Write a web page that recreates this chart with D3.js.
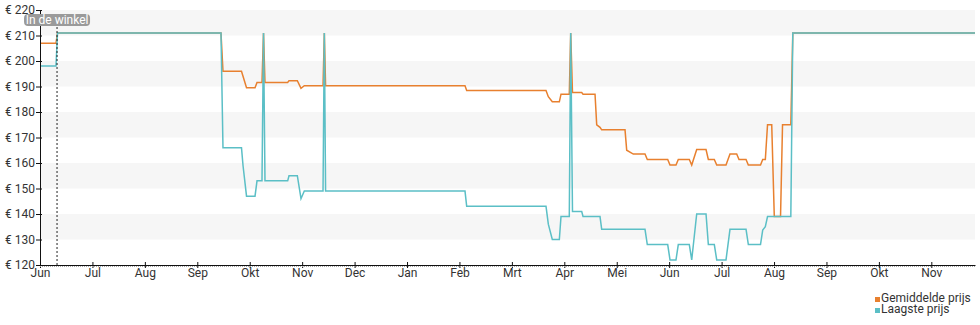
<!DOCTYPE html>
<html>
<head>
<meta charset="utf-8">
<script src="https://cdn.jsdelivr.net/npm/d3@7"></script>
<style>
  body { margin: 0; background: #fff; }
  svg { font-family: Roboto, sans-serif; }
</style>
</head>
<body>
<div id="chart"></div>
<script>
// month labels (x axis, one per month starting at Jun)
var monthLabels = ["Jun", "Jul", "Aug", "Sep", "Okt", "Nov", "Dec", "Jan", "Feb",
  "Mrt", "Apr", "Mei", "Jun", "Jul", "Aug", "Sep", "Okt", "Nov"];

// position of each price point, in months after the first Jun tick
var monthPos = [0, 0.305, 0.334, 3.452, 3.490, 3.843, 3.872, 3.939, 4.101, 4.139,
  4.234, 4.263, 4.291, 4.724, 4.749, 4.908, 4.978, 5.041, 5.398, 5.423,
  5.447, 8.106, 8.138, 9.651, 9.695, 9.771, 9.905, 9.937, 10.095, 10.122,
  10.156, 10.332, 10.357, 10.586, 10.618, 10.681, 10.713, 11.158, 11.190, 11.316,
  11.539, 11.583, 11.972, 12.016, 12.130, 12.174, 12.384, 12.430, 12.525, 12.703,
  12.747, 12.861, 12.907, 13.084, 13.160, 13.288, 13.332, 13.466, 13.510, 13.742,
  13.784, 13.834, 13.876, 13.956, 14.005, 14.124, 14.162, 14.320, 14.358, 17.833];

// Gemiddelde prijs
var avgPrice = [207, 207, 211, 211, 196, 196, 194, 189.5, 189.5, 191.6,
  191.6, 211, 191.6, 191.6, 192.3, 192.3, 189.3, 190.3, 190.3, 211,
  190.3, 190.3, 188.4, 188.4, 186, 184, 184, 187, 187, 211,
  187.6, 187.6, 187, 187, 175, 174, 173, 173, 165, 163.5,
  163.5, 161.4, 161.4, 159.2, 159.2, 161.4, 161.4, 159.2, 165.3, 165.3,
  161.4, 161.4, 159.2, 159.2, 163.5, 163.5, 161.4, 161.4, 159.2, 159.2,
  161.4, 161.4, 175, 175, 139, 139, 175, 175, 211, 211];

// Laagste prijs
var lowPrice = [198, 198, 211, 211, 166, 166, 159, 147, 147, 153,
  153, 211, 153, 153, 155, 155, 146, 149, 149, 211,
  149, 149, 143, 143, 136, 130, 130, 139, 139, 211,
  141, 141, 139, 139, 139, 139, 134, 134, 134, 134,
  134, 128, 128, 122, 122, 128, 128, 122, 140, 140,
  128, 128, 122, 122, 134, 134, 134, 134, 128, 128,
  133.7, 135, 139, 139, 139, 139, 139, 139, 211, 211];

var yTicks = [120, 130, 140, 150, 160, 170, 180, 190, 200, 210, 220];
var inStoreMonth = 0.325;

var svgWidth = 980;
var svgHeight = 325;
var margin = { top: 10, right: 5, bottom: 60, left: 40 };
var chartWidth = svgWidth - margin.left - margin.right;
var chartHeight = svgHeight - margin.top - margin.bottom;

var svg = d3.select("#chart")
  .append("svg")
  .attr("width", svgWidth)
  .attr("height", svgHeight);

var chartGroup = svg.append("g")
  .attr("transform", `translate(${margin.left}, ${margin.top})`);

var xScale = d3.scaleLinear()
  .domain([0, 17.833])
  .range([0, chartWidth]);

var yScale = d3.scaleLinear()
  .domain([120, 220])
  .range([chartHeight, 0]);

// alternating background bands
chartGroup.selectAll("rect.band")
  .data([130, 150, 170, 190, 210])
  .enter()
  .append("rect")
  .attr("class", "band")
  .attr("x", 0)
  .attr("width", chartWidth)
  .attr("y", d => yScale(d + 10))
  .attr("height", d => yScale(d) - yScale(d + 10))
  .attr("fill", "#f6f6f6");

// lines
var avgData = monthPos.map((m, i) => [m, avgPrice[i]]);
var lowData = monthPos.map((m, i) => [m, lowPrice[i]]);

var line = d3.line()
  .x(d => xScale(d[0]))
  .y(d => yScale(d[1]));

chartGroup.append("path")
  .datum(avgData)
  .attr("d", line)
  .attr("fill", "none")
  .attr("stroke", "#e8802f")
  .attr("stroke-width", 1.5);

chartGroup.append("path")
  .datum(lowData)
  .attr("d", line)
  .attr("fill", "none")
  .attr("stroke", "#5bbfc6")
  .attr("stroke-width", 1.5);

// y axis
var leftAxis = d3.axisLeft(yScale)
  .tickValues(yTicks)
  .tickSize(4)
  .tickSizeOuter(0)
  .tickFormat(d => "€ " + d);

var yAxisG = chartGroup.append("g").call(leftAxis);
yAxisG.select(".domain").attr("stroke", "#111");
yAxisG.selectAll(".tick line").attr("stroke", "#111").attr("x2", -4).attr("x1", 2);
yAxisG.selectAll(".tick text")
  .attr("x", -5)
  .attr("font-family", "Roboto, sans-serif")
  .attr("font-size", "12px")
  .attr("fill", "#333");

// x axis
var bottomAxis = d3.axisBottom(xScale)
  .tickValues(d3.range(monthLabels.length))
  .tickSize(3)
  .tickSizeOuter(0)
  .tickFormat(i => monthLabels[i]);

var xAxisG = chartGroup.append("g")
  .attr("transform", `translate(0, ${chartHeight})`)
  .call(bottomAxis);
xAxisG.select(".domain").attr("stroke", "#111");
xAxisG.selectAll(".tick line").attr("stroke", "#111").attr("y1", -3).attr("y2", 3);
xAxisG.selectAll(".tick text")
  .attr("y", 3)
  .attr("font-family", "Roboto, sans-serif")
  .attr("font-size", "12px")
  .attr("fill", "#333");

// dotted gray line under the x axis
chartGroup.append("line")
  .attr("x1", 0)
  .attr("x2", chartWidth)
  .attr("y1", chartHeight + 1.5)
  .attr("y2", chartHeight + 1.5)
  .attr("stroke", "#aaa")
  .attr("stroke-dasharray", "1,1");

// "In de winkel" marker
var markerX = xScale(inStoreMonth);
chartGroup.append("line")
  .attr("x1", markerX)
  .attr("x2", markerX)
  .attr("y1", 5)
  .attr("y2", chartHeight)
  .attr("stroke", "#222")
  .attr("stroke-dasharray", "2,2");

chartGroup.append("rect")
  .attr("x", markerX - 33)
  .attr("y", 4)
  .attr("width", 66)
  .attr("height", 12)
  .attr("rx", 4)
  .attr("fill", "#9a9a9a");

chartGroup.append("text")
  .attr("x", markerX)
  .attr("y", 14)
  .attr("text-anchor", "middle")
  .attr("font-size", "12px")
  .attr("fill", "#fff")
  .text("In de winkel");

// legend
var legendItems = [
  { name: "Gemiddelde prijs", color: "#e8802f" },
  { name: "Laagste prijs", color: "#5bbfc6" }
];

var legend = svg.append("g")
  .attr("transform", "translate(875, 296)");

legend.selectAll("rect")
  .data(legendItems)
  .enter()
  .append("rect")
  .attr("x", 0)
  .attr("y", (d, i) => i * 11 + 1)
  .attr("width", 5)
  .attr("height", 5)
  .attr("fill", d => d.color);

legend.selectAll("text")
  .data(legendItems)
  .enter()
  .append("text")
  .attr("x", 6)
  .attr("y", (d, i) => i * 11 + 6)
  .attr("font-size", "12px")
  .attr("fill", "#333")
  .text(d => d.name);
</script>
</body>
</html>
